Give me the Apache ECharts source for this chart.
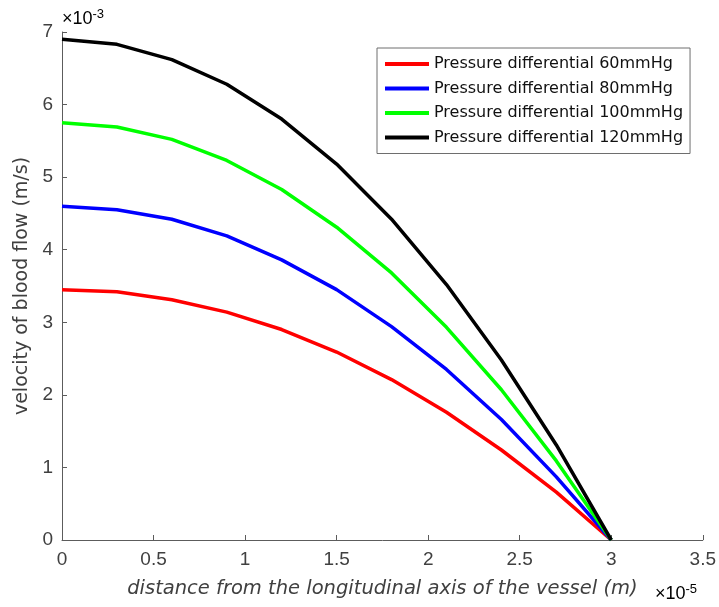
<!DOCTYPE html>
<html>
<head>
<meta charset="utf-8">
<script src="https://cdn.jsdelivr.net/npm/echarts@6/dist/echarts.min.js"></script>
<style>html,body{margin:0;padding:0;background:#fff;}#c{width:719px;height:607px;}</style>
</head>
<body>
<div id="c"></div>
<script>
// x in units of 1e-5 m, y in units of 1e-3 m/s
const xValues = [0, 0.3, 0.6, 0.9, 1.2, 1.5, 1.8, 2.1, 2.4, 2.7, 3.0];
const seriesNames = ['Pressure differential 60mmHg','Pressure differential 80mmHg','Pressure differential 100mmHg','Pressure differential 120mmHg'];
const v60  = [3.45, 3.42, 3.31, 3.14, 2.90, 2.59, 2.21, 1.76, 1.24, 0.66, 0];
const v80  = [4.60, 4.55, 4.42, 4.19, 3.86, 3.45, 2.94, 2.35, 1.66, 0.87, 0];
const v100 = [5.75, 5.69, 5.52, 5.23, 4.83, 4.31, 3.68, 2.93, 2.07, 1.09, 0];
const v120 = [6.90, 6.83, 6.62, 6.28, 5.80, 5.18, 4.42, 3.52, 2.48, 1.31, 0];
const xTicks = [0, 0.5, 1, 1.5, 2, 2.5, 3, 3.5];
const yTicks = [0, 1, 2, 3, 4, 5, 6, 7];
const colors = ['#ff0000', '#0000ff', '#00ff00', '#000000'];

const allValues = [v60, v80, v100, v120];
const chart = echarts.init(document.getElementById('c'));
const axisColor = '#5c5c5c';
const textColor = '#404040';
const font = 'Liberation Sans, Arial, sans-serif';
const wideFont = 'DejaVu Sans, sans-serif';

chart.setOption({
  animation: false,
  backgroundColor: '#fff',
  grid: { left: 62, right: 16, top: 32, bottom: 67, containLabel: false },
  xAxis: {
    type: 'value', min: xTicks[0], max: xTicks[xTicks.length-1], interval: 0.5,
    name: 'distance from the longitudinal axis of the vessel (m)',
    nameLocation: 'middle', nameGap: 39,
    nameTextStyle: { fontFamily: wideFont, fontSize: 19.5, fontStyle: 'italic', color: textColor },
    axisLine: { show: true, lineStyle: { color: axisColor, width: 1 } },
    axisTick: { show: true, inside: true, length: 5, lineStyle: { color: axisColor } },
    axisLabel: { fontFamily: font, fontSize: 19, color: textColor, margin: 10 },
    splitLine: { show: false }
  },
  yAxis: {
    type: 'value', min: yTicks[0], max: yTicks[yTicks.length-1], interval: 1,
    name: 'velocity of blood flow (m/s)',
    nameLocation: 'middle', nameGap: 29, nameRotate: 90,
    nameTextStyle: { fontFamily: wideFont, fontSize: 19, color: textColor },
    axisLine: { show: true, lineStyle: { color: axisColor, width: 1 } },
    axisTick: { show: true, inside: true, length: 5, lineStyle: { color: axisColor } },
    axisLabel: { fontFamily: font, fontSize: 19, color: textColor, margin: 9 },
    splitLine: { show: false }
  },
  legend: {
    orient: 'vertical', left: 377, top: 48,
    data: seriesNames,
    backgroundColor: '#fff',
    borderColor: '#6e6e6e', borderWidth: 1, borderRadius: 0,
    padding: [8, 7, 8, 8],
    itemWidth: 44, itemHeight: 4, itemGap: 8.5,
    icon: 'rect',
    textStyle: { fontFamily: wideFont, fontSize: 16, color: '#111', lineHeight: 16 }
  },
  graphic: [
    { type: 'text', left: 62, top: 8, style: { rich: { a: { fontFamily: font, fontSize: 18, color: '#666' }, b: { fontFamily: font, fontSize: 13, color: '#666', padding: [0,0,9,0] } }, text: '{a|×10}{b|-3}' } },
    { type: 'text', left: 655, top: 583, style: { rich: { a: { fontFamily: font, fontSize: 18, color: '#666' }, b: { fontFamily: font, fontSize: 13, color: '#666', padding: [0,0,9,0] } }, text: '{a|×10}{b|-5}' } }
  ],
  series: allValues.map((vals, i) => ({
    name: seriesNames[i], type: 'line', showSymbol: false, symbol: 'none',
    data: xValues.map((x, j) => [x, vals[j]]),
    lineStyle: { color: colors[i], width: 3.5 },
    itemStyle: { color: colors[i] }
  }))
});
</script>
</body>
</html>
